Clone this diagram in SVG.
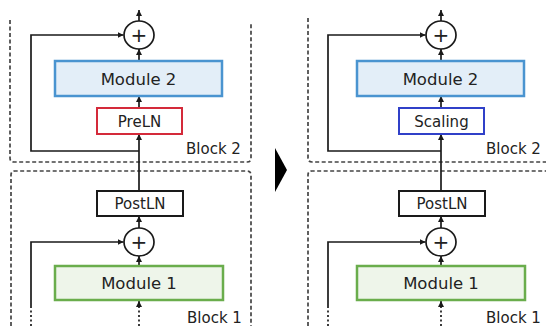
<svg xmlns="http://www.w3.org/2000/svg" width="546" height="326" viewBox="0 0 546 326">
<defs>
<marker id="ah" markerUnits="userSpaceOnUse" markerWidth="7" markerHeight="7" refX="6" refY="3" orient="auto">
<path d="M0,0 L6,3 L0,6 z" fill="#1a1a1a"/>
</marker>
<style>
text{font-family:"DejaVu Sans","Liberation Sans",sans-serif;fill:#222;}
.dash{fill:none;stroke:#444;stroke-width:1.7;stroke-dasharray:4,2.5;}
.arr{fill:none;stroke:#1a1a1a;stroke-width:1.7;marker-end:url(#ah);}
.dot{fill:none;stroke:#1a1a1a;stroke-width:1.7;stroke-dasharray:2,2.5;}
.lbl{font-size:15px;text-anchor:middle;}
.mod{font-size:16.5px;text-anchor:middle;}
.blk{font-size:15px;}
.plus{font-size:20px;text-anchor:middle;}
.circ{fill:#fff;stroke:#1a1a1a;stroke-width:1.7;}
</style>
</defs>
<rect width="546" height="326" fill="#fff"/>

<g id="block-frames">
<path class="dash" d="M10,20 V158 Q10,162 14,162 H247 Q251,162 251,158 V22"/>
<path class="dash" d="M11,326 V175 Q11,171 15,171 H247 Q251,171 251,175 V326"/>
<path class="dash" d="M308,18 V158 Q308,162 312,162 H546"/>
<path class="dash" d="M308,326 V175 Q308,171 312,171 H546"/>
</g>

<g id="transition-arrow">
<path d="M275,148 L287,170 L275,192 z" fill="#000"/>
</g>

<g id="connectors">
<path class="arr" d="M139,151 H31 V35 H123.5"/>
<path class="arr" d="M139,191 V134"/>
<path class="arr" d="M139,108 V96"/>
<path class="arr" d="M139,61 V49"/>
<path class="arr" d="M139,21 V10"/>
<path class="arr" d="M139,228 V216"/>
<path class="arr" d="M139,266 V256"/>
<path class="arr" d="M139,306 V301"/>
<path class="dot" d="M139,326 V306"/>
<path class="arr" d="M31,306 V242 H123.5"/>
<path class="dot" d="M31,326 V306"/>
<path class="arr" d="M441,151 H328 V35 H425.5"/>
<path class="arr" d="M441,191 V134"/>
<path class="arr" d="M441,108 V96"/>
<path class="arr" d="M441,61 V49"/>
<path class="arr" d="M441,21 V10"/>
<path class="arr" d="M441,228 V216"/>
<path class="arr" d="M441,266 V256"/>
<path class="arr" d="M441,306 V301"/>
<path class="dot" d="M441,326 V306"/>
<path class="arr" d="M328,306 V242 H425.5"/>
<path class="dot" d="M328,326 V306"/>
</g>

<g id="add2-left"><ellipse class="circ" cx="139" cy="35" rx="15" ry="14"/><text class="plus" x="139" y="42">+</text></g>
<g id="module2-left"><rect x="55" y="61" width="167" height="35" fill="#e3eef8" stroke="#4a94d0" stroke-width="2.5"/><text class="mod" x="138.5" y="84.5">Module 2</text></g>
<g id="preln-left"><rect x="97" y="108" width="85" height="26" fill="#fff" stroke="#d42a3a" stroke-width="2"/><text class="lbl" x="139.5" y="126.5">PreLN</text></g>
<g id="block2-label-left"><text class="blk" x="186" y="154">Block 2</text></g>
<g id="postln-left"><rect x="97" y="191" width="86" height="25" fill="#fff" stroke="#1a1a1a" stroke-width="2"/><text class="lbl" x="140" y="209">PostLN</text></g>
<g id="add1-left"><ellipse class="circ" cx="139" cy="242" rx="15" ry="14"/><text class="plus" x="139" y="249">+</text></g>
<g id="module1-left"><rect x="55" y="266" width="168" height="34" fill="#eef5ea" stroke="#6aad4c" stroke-width="2.5"/><text class="mod" x="139" y="289">Module 1</text></g>
<g id="block1-label-left"><text class="blk" x="187" y="323">Block 1</text></g>

<g id="add2-right"><ellipse class="circ" cx="441" cy="35" rx="15" ry="14"/><text class="plus" x="441" y="42">+</text></g>
<g id="module2-right"><rect x="357" y="61" width="167" height="35" fill="#e3eef8" stroke="#4a94d0" stroke-width="2.5"/><text class="mod" x="440.5" y="84.5">Module 2</text></g>
<g id="scaling-right"><rect x="399" y="108" width="85" height="26" fill="#fff" stroke="#3040c8" stroke-width="2"/><text class="lbl" x="441.5" y="126.5">Scaling</text></g>
<g id="block2-label-right"><text class="blk" x="486" y="154">Block 2</text></g>
<g id="postln-right"><rect x="399" y="191" width="86" height="25" fill="#fff" stroke="#1a1a1a" stroke-width="2"/><text class="lbl" x="442" y="209">PostLN</text></g>
<g id="add1-right"><ellipse class="circ" cx="441" cy="242" rx="15" ry="14"/><text class="plus" x="441" y="249">+</text></g>
<g id="module1-right"><rect x="357" y="266" width="168" height="34" fill="#eef5ea" stroke="#6aad4c" stroke-width="2.5"/><text class="mod" x="441" y="289">Module 1</text></g>
<g id="block1-label-right"><text class="blk" x="486" y="323">Block 1</text></g>
</svg>
